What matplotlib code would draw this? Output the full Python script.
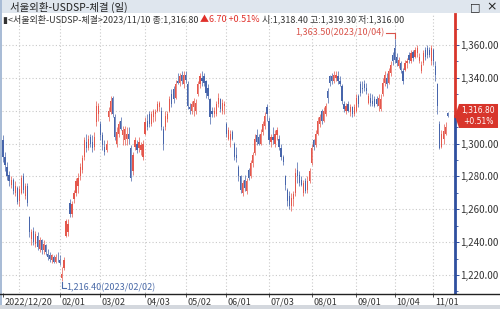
import numpy as np
import pandas as pd
import matplotlib
matplotlib.use("Agg")
import matplotlib.pyplot as plt
import matplotlib.transforms as mtransforms
from matplotlib.ticker import FuncFormatter, MultipleLocator
from matplotlib.patches import Rectangle, Polygon

plt.rcParams['font.family'] = ['Noto Sans CJK KR', 'DejaVu Sans']

# trading calendar (Seoul FX market)
start_date, end_date = "2022-12-20", "2023-11-10"
holidays = ["2022-12-30", "2023-01-23", "2023-01-24", "2023-03-01", "2023-05-01",
            "2023-05-05", "2023-05-29", "2023-06-06", "2023-08-15", "2023-09-28",
            "2023-09-29", "2023-10-02", "2023-10-03", "2023-10-09"]

# daily OHLC (one line per month)
opens = [
    1302, 1292, 1286, 1281, 1275, 1278, 1270, 1273,
    1265, 1270, 1280, 1268, 1274, 1255, 1242, 1247, 1239, 1244, 1236, 1241, 1235, 1238, 1233, 1232, 1229, 1231, 1228, 1232,
    1229, 1218, 1224, 1244, 1246, 1264, 1257, 1266, 1270, 1274, 1280, 1284, 1292, 1301, 1297, 1304, 1301, 1298, 1313, 1318,
    1312, 1305, 1298, 1296, 1316, 1319, 1328, 1316, 1300, 1306, 1314, 1305, 1302, 1303, 1306, 1297, 1283, 1298, 1300, 1297, 1296, 1292,
    1306, 1314, 1318, 1312, 1316, 1318, 1320, 1322, 1320, 1309, 1310, 1315, 1320, 1330, 1333, 1328, 1338, 1337, 1342, 1336,
    1342, 1336, 1322, 1320, 1322, 1320, 1330, 1336, 1340, 1341, 1338, 1334, 1327, 1320, 1318, 1318, 1324, 1327, 1320, 1323,
    1312, 1303, 1302, 1307, 1300, 1293, 1286, 1280, 1270, 1278, 1271, 1284, 1280, 1288, 1294, 1305, 1304, 1300, 1307, 1311, 1322,
    1314, 1301, 1304, 1300, 1305, 1303, 1297, 1292, 1280, 1272, 1268, 1262, 1266, 1270, 1284, 1281, 1278, 1270, 1277, 1272, 1277,
    1288, 1302, 1299, 1306, 1312, 1320, 1314, 1318, 1332, 1341, 1341, 1338, 1340, 1341, 1338, 1335, 1324, 1320, 1324, 1319, 1322, 1318,
    1320, 1329, 1336, 1334, 1336, 1334, 1325, 1328, 1326, 1327, 1327, 1323, 1321, 1330, 1337, 1340, 1337, 1343, 1354,
    1358, 1353, 1347, 1349, 1344, 1345, 1349, 1354, 1350, 1356, 1353, 1355, 1350, 1344, 1349, 1357, 1358, 1357, 1350,
    1357, 1347, 1336, 1312, 1298, 1303, 1306, 1318.4,
]
highs = [
    1305, 1295, 1289, 1283, 1280, 1279, 1277, 1274,
    1274, 1281, 1282, 1276, 1276, 1256, 1248, 1249, 1247, 1246, 1243, 1242, 1241, 1239, 1236, 1234, 1233, 1232, 1233, 1234,
    1232, 1225, 1231, 1254, 1254, 1266, 1265, 1272, 1279, 1282, 1288, 1293, 1304, 1306, 1305, 1306, 1305, 1307, 1326, 1325,
    1314, 1307, 1302, 1302, 1322, 1329, 1329, 1318, 1310, 1314, 1316, 1311, 1311, 1310, 1310, 1299, 1295, 1304, 1302, 1304, 1301, 1302,
    1316, 1318, 1320, 1320, 1321, 1321, 1326, 1326, 1322, 1311, 1320, 1320, 1329, 1333, 1335, 1339, 1343, 1343, 1344, 1344,
    1344, 1338, 1325, 1326, 1328, 1327, 1338, 1343, 1344, 1343, 1339, 1336, 1328, 1322, 1322, 1326, 1331, 1328, 1327, 1326,
    1313, 1310, 1308, 1308, 1301, 1298, 1287, 1281, 1278, 1281, 1279, 1285, 1290, 1295, 1306, 1309, 1306, 1309, 1314, 1319, 1324,
    1316, 1306, 1310, 1308, 1310, 1305, 1300, 1293, 1281, 1273, 1271, 1270, 1271, 1285, 1289, 1283, 1280, 1278, 1279, 1280, 1285,
    1300, 1303, 1308, 1316, 1318, 1321, 1322, 1325, 1334, 1342, 1343, 1344, 1344, 1344, 1341, 1336, 1326, 1325, 1326, 1324, 1323, 1324,
    1330, 1330, 1338, 1338, 1339, 1337, 1331, 1331, 1330, 1329, 1329, 1330, 1330, 1340, 1344, 1343, 1346, 1350, 1356,
    1363.5, 1355, 1353, 1350, 1346, 1351, 1352, 1356, 1357, 1357, 1359, 1360, 1355, 1350, 1357, 1359, 1360, 1359, 1360,
    1358, 1350, 1337, 1314, 1308, 1312, 1313, 1319.3,
]
lows = [
    1289, 1283, 1278, 1274, 1273, 1269, 1268, 1263,
    1262, 1269, 1270, 1266, 1262, 1243, 1238, 1238, 1237, 1235, 1234, 1233, 1233, 1232, 1229, 1228, 1227, 1227, 1227, 1228,
    1226, 1216.4, 1223, 1243, 1244, 1255, 1255, 1264, 1268, 1270, 1278, 1282, 1290, 1295, 1296, 1298, 1295, 1296, 1311, 1314,
    1302, 1296, 1293, 1295, 1314, 1318, 1316, 1302, 1298, 1304, 1308, 1299, 1299, 1299, 1300, 1277, 1281, 1296, 1294, 1295, 1293, 1290,
    1305, 1308, 1310, 1311, 1313, 1314, 1319, 1320, 1308, 1296, 1308, 1313, 1319, 1322, 1325, 1327, 1336, 1335, 1336, 1334,
    1337, 1321, 1318, 1318, 1317, 1318, 1329, 1334, 1335, 1335, 1328, 1327, 1312, 1316, 1316, 1317, 1322, 1319, 1318, 1318,
    1304, 1302, 1298, 1302, 1290, 1289, 1277, 1270, 1268, 1271, 1269, 1278, 1279, 1286, 1293, 1299, 1299, 1299, 1305, 1309, 1314,
    1300, 1298, 1300, 1298, 1302, 1296, 1290, 1287, 1272, 1262, 1260, 1259, 1262, 1268, 1276, 1274, 1274, 1268, 1270, 1270, 1276,
    1287, 1296, 1298, 1305, 1310, 1312, 1313, 1317, 1325, 1335, 1336, 1337, 1338, 1336, 1335, 1324, 1319, 1318, 1319, 1317, 1316, 1317,
    1319, 1322, 1329, 1331, 1332, 1330, 1324, 1323, 1323, 1322, 1323, 1320, 1320, 1329, 1335, 1334, 1336, 1341, 1348,
    1349, 1347, 1346, 1343, 1336, 1344, 1346, 1349, 1349, 1350, 1352, 1353, 1349, 1343, 1348, 1351, 1352, 1353, 1348,
    1348, 1338, 1318, 1296.5, 1297, 1300, 1305, 1316.0,
]
closes = [
    1292, 1287, 1280, 1277, 1278, 1271, 1274, 1264.5,
    1272.6, 1279, 1272, 1274, 1264, 1246, 1246, 1240, 1245, 1237, 1241, 1235, 1239, 1234, 1231, 1230, 1232, 1228, 1231, 1231.9,
    1227, 1220.3, 1229, 1252.8, 1251, 1257, 1263, 1270, 1277, 1279, 1286, 1291, 1302, 1297, 1303, 1300, 1297, 1304, 1323, 1322.6,
    1305, 1299, 1295, 1300, 1320, 1326, 1318, 1304, 1307, 1312, 1309, 1308, 1309, 1306, 1303, 1279, 1293, 1302, 1296, 1301, 1299, 1300,
    1313, 1310, 1312, 1318, 1320, 1319, 1324, 1325, 1310, 1300, 1317, 1318, 1327, 1324, 1327, 1336, 1337, 1341, 1338, 1342,
    1339, 1323, 1321, 1324, 1326, 1325, 1336, 1341, 1338, 1337, 1331, 1329, 1316, 1318, 1320, 1324, 1328, 1321, 1325, 1324,
    1306, 1308, 1306, 1303, 1292, 1291, 1280, 1272, 1276, 1273, 1277, 1279, 1288, 1293, 1303, 1301, 1300, 1306, 1312, 1317, 1317.7,
    1302, 1304, 1302, 1306, 1308, 1298, 1292, 1289, 1275, 1265, 1262, 1267, 1269, 1282, 1280, 1276, 1275, 1276, 1271, 1277, 1283,
    1297, 1298, 1306, 1314, 1316, 1314, 1320, 1323, 1328, 1337, 1338, 1342, 1342, 1338, 1336, 1326, 1321, 1323, 1320, 1322, 1318, 1322,
    1328, 1324, 1331, 1333, 1334, 1332, 1329, 1325, 1324, 1323, 1324, 1328, 1327, 1337, 1342, 1336, 1344, 1348, 1350,
    1351, 1349, 1351, 1345, 1338, 1349, 1350, 1351, 1355, 1352, 1357, 1358, 1353, 1348, 1355, 1353, 1354, 1354, 1358,
    1350, 1342, 1322.7, 1297.3, 1305.6, 1307.6, 1310.1, 1316.8,
]

hi_label, hi_date = "1,363.50", "2023/10/04"
lo_label, lo_date = "1,216.40", "2023/02/02"

RED = "#e4574c"
BLUE = "#4765ab"
AX_RED = "#d8352b"
AX_BLUE = "#2f4f9f"
GRID = "#c9c9c9"
TXT = "#333333"

dates = pd.bdate_range(start_date, end_date)
dates = dates[~dates.isin(pd.to_datetime(holidays))]
o, h, l, c = (np.array(v, dtype=float) for v in (opens, highs, lows, closes))
x = np.arange(len(dates))[:len(c)]
last = c[-1]

W, H = 500, 309
fig = plt.figure(figsize=(W / 100, H / 100), dpi=100)
fig.patch.set_facecolor("white")

def fx(px):
    return px / W

def fy(py):
    return 1 - py / H

ax = fig.add_axes([fx(2), fy(293), fx(455) - fx(2), fy(14) - fy(293)])
ax.set_xlim(-0.49, 222.66)
ax.set_ylim(1209.0, 1378.9)

# candles
up = c >= o
cols = np.where(up, RED, BLUE)
ax.vlines(x, l, h, colors=cols, linewidth=0.5, zorder=3)
ax.bar(x, np.maximum(np.abs(c - o), 0.5), bottom=np.minimum(o, c), width=0.6,
       color=cols, linewidth=0, zorder=3)

# month ticks / grid
firsts = [i for i in range(1, len(dates)) if dates[i].month != dates[i - 1].month]
for i in firsts:
    ax.axvline(i, color=GRID, linestyle=(0, (1, 2)), linewidth=0.8, zorder=1)
tick_pos = [0] + [i for i in firsts if dates[i].month != 1]
tick_lab = [dates[0].strftime("%Y/%m/%d")] + [dates[i].strftime("%m/%d") for i in tick_pos[1:]]
ax.set_xticks(tick_pos)
ax.set_xticklabels(tick_lab, fontsize=6.5, color=TXT)
ax.tick_params(axis="x", length=3, width=0.6, color=TXT, pad=0.5, direction="out")
shift = mtransforms.ScaledTranslation(1.5 / 100, 0, fig.dpi_scale_trans)
for lbl in ax.get_xticklabels():
    lbl.set_ha("left")
    lbl.set_transform(lbl.get_transform() + shift)

# y labels; the one under the price tag is hidden like in the terminal
ax.yaxis.tick_right()
ax.set_yticks(np.arange(1220, 1361, 20))
ax.yaxis.set_minor_locator(MultipleLocator(10))
ax.yaxis.set_major_formatter(FuncFormatter(lambda v, _: "" if abs(v - last) < 8 else f"{v:,.2f}"))
ax.tick_params(axis="y", which="major", length=3, width=0.7, color=AX_BLUE, pad=1,
               labelsize=7, labelcolor=TXT)
ax.tick_params(axis="y", which="minor", length=2, width=0.6, color=AX_BLUE)
ax.grid(axis="y", which="major", color=GRID, linestyle=(0, (1, 2)), linewidth=0.8, zorder=1)
for s in ax.spines.values():
    s.set_visible(False)

# right axis line: red above last price, blue below
tr = mtransforms.blended_transform_factory(ax.transAxes, ax.transData)
ax.plot([1, 1], [1209.0, last], transform=tr, color=AX_BLUE, lw=2, clip_on=False, zorder=5)
ax.plot([1, 1], [last, 1378.9], transform=tr, color=AX_RED, lw=2, clip_on=False, zorder=5)

# high / low markers
ih = int(np.argmax(h))
il = int(np.argmin(l))
ax.plot([ih - 4.5, ih, ih], [1367.3, 1367.3, h[ih] + 0.8], color="#d9534a", lw=0.8, zorder=4)
ax.text(ih - 5, 1367.3, f"{hi_label}({hi_date})", color="#d9534a", fontsize=6.5,
        ha="right", va="center", zorder=4)
ax.plot([il, il, il + 2], [l[il] - 0.8, 1212.1, 1212.1], color="#4a6aa8", lw=0.8,
        zorder=4, clip_on=False)
ax.text(il + 2.3, 1212.1, f"{lo_label}({lo_date})", color="#4a6aa8", fontsize=6.5,
        ha="left", va="center", zorder=4)

# price tag
fig.canvas.draw()
yc = ax.transData.transform((0, last))[1] / H
py = 1 / H
tag = Polygon([(fx(455), yc), (fx(459), yc + 12 * py), (fx(498), yc + 12 * py),
               (fx(498), yc - 12 * py), (fx(459), yc - 12 * py)],
              closed=True, transform=fig.transFigure, facecolor=AX_RED,
              edgecolor="none", zorder=10)
fig.add_artist(tag)
chg = c[-1] - c[-2]
pct = chg / c[-2] * 100
fig.text(fx(478), yc + 5.5 * py, f"{last:,.2f}", color="white", fontsize=5.5,
         ha="center", va="center", zorder=11, family="DejaVu Sans")
fig.text(fx(478), yc - 5.5 * py, f"+{pct:.2f}%", color="white", fontsize=5.5,
         ha="center", va="center", zorder=11, family="DejaVu Sans")

# window frame
fig.add_artist(Rectangle((0, fy(13)), 1, 13 / H, transform=fig.transFigure,
                         facecolor="#dfe6ee", edgecolor="none", zorder=0))
fig.add_artist(Rectangle((0, 0), 2 / W, 1, transform=fig.transFigure,
                         facecolor="#a9bcd6", edgecolor="none", zorder=0))
fig.add_artist(Rectangle((0, 0), 1, 4 / H, transform=fig.transFigure,
                         facecolor="#d4d8de", edgecolor="none", zorder=0))
fig.add_artist(plt.Line2D([0, 1], [fy(293.5), fy(293.5)], transform=fig.transFigure,
                          color="#222222", lw=1))

fig.text(fx(10), fy(7), "서울외환-USDSP-체결 (일)", fontsize=7.5, color="#222222",
         ha="left", va="center")
fig.text(fx(470), fy(7), "□", fontsize=8, color="#222222", ha="left", va="center",
         family="DejaVu Sans")
fig.text(fx(486), fy(7), "×", fontsize=9, color="#222222", ha="left", va="center",
         family="DejaVu Sans")

part1 = fig.text(fx(3), fy(19), f"▮<서울외환-USDSP-체결>{dates[-1]:%Y/%m/%d} 종:{last:,.2f} ",
                 fontsize=6.5, color=TXT, ha="left", va="center")
part2 = fig.text(0, 0, f"▲{chg:.2f} +{pct:.2f}% ", fontsize=6.5, color="#e0302a",
                 ha="left", va="center")
part3 = fig.text(0, 0, f"시:{o[-1]:,.2f} 고:{h[-1]:,.2f} 저:{l[-1]:,.2f}",
                 fontsize=6.5, color=TXT, ha="left", va="center")
fig.canvas.draw()
r = fig.canvas.get_renderer()
e1 = part1.get_window_extent(r)
part2.set_position((e1.x1 / W, fy(19)))
fig.canvas.draw()
e2 = part2.get_window_extent(r)
part3.set_position((e2.x1 / W, fy(19)))

fig.savefig("out.png", dpi=100)
